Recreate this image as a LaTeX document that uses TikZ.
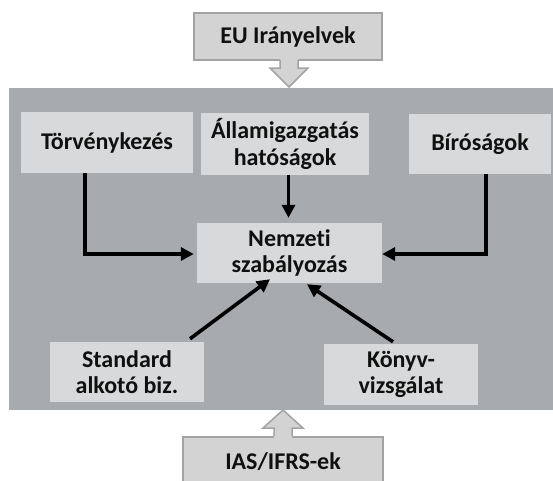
\documentclass[tikz,border=0pt]{standalone}
\usepackage{fontspec}
\setmainfont[Ligatures=NoCommon]{Carlito}
\usetikzlibrary{arrows.meta}
\definecolor{bggray}{HTML}{A7ABAD}
\definecolor{boxgray}{HTML}{D8D9DA}
\definecolor{callfill}{HTML}{D3D3D3}
\definecolor{calledge}{HTML}{A3A3A3}
\definecolor{txt}{HTML}{101010}
\begin{document}
\begin{tikzpicture}[x=1pt,y=-1pt,
  inbox/.style={fill=boxgray, draw=none, inner sep=0pt, align=center, text=txt,
    font=\fontsize{24}{26.5}\selectfont\bfseries},
  callbox/.style={fill=callfill, draw=calledge, line width=1.5pt, inner sep=0pt, align=center, text=txt,
    font=\fontsize{24}{26.5}\selectfont\bfseries},
  callfillonly/.style={fill=callfill, draw=none},
  calloutline/.style={draw=calledge, line width=1.5pt, line join=miter},
  flow/.style={draw=black, line width=3.6pt, -{Triangle[length=13pt,width=13pt]}}]
\useasboundingbox (0,0) rectangle (553,480);
\begin{scope}
\clip (0,0) rectangle (553,480);
% background panel
\fill[bggray] (9,88) rectangle (553,410);
% top callout
\node[callbox, minimum width=188pt, minimum height=47pt] (eu) at (288,36.5) {EU Irányelvek};
\fill[callfillonly] (280,58) -- (280,68) -- (270,68) -- (289,87) -- (308,68) -- (298,68) -- (298,58) -- cycle;
\draw[calloutline] (280,60) -- (280,68) -- (270,68) -- (289,87) -- (308,68) -- (298,68) -- (298,60);
% bottom callout
\node[callbox, minimum width=200pt, minimum height=60pt, anchor=north] (ias) at (283,436) {};
\node[text=txt, font=\fontsize{24}{26.5}\selectfont\bfseries, inner sep=0pt] (iastext) at (283,462) {IAS/IFRS-ek};
\fill[callfillonly] (274,438) -- (274,428) -- (263,428) -- (283,410) -- (303,428) -- (292,428) -- (292,438) -- cycle;
\draw[calloutline] (274,436) -- (274,428) -- (263,428) -- (283,410) -- (303,428) -- (292,428) -- (292,436);
\end{scope}
% inner boxes
\node[inbox, minimum width=172pt, minimum height=61pt] (torv) at (107,142.5) {Törvénykezés};
\node[inbox, minimum width=168pt, minimum height=62pt] (allam) at (285,144) {Államigazgatás\\hatóságok};
\node[inbox, minimum width=142pt, minimum height=60pt] (biro) at (480,144) {Bíróságok};
\node[inbox, minimum width=185pt, minimum height=60pt] (nemz) at (289.5,253) {Nemzeti\\szabályozás};
\node[inbox, minimum width=154pt, minimum height=60pt] (std) at (127,372) {Standard\\alkotó biz.};
\node[inbox, minimum width=154pt, minimum height=61pt] (konyv) at (401,374.5) {Könyv-\\vizsgálat};
% connectors
\coordinate (tl) at (85,254);
\coordinate (tr) at (486,254);
\draw[flow, shorten >=3pt] ([xshift=-22pt]torv.south) -- (tl) -- (tl -| nemz.west);
\draw[flow, shorten >=5pt] ([xshift=3.5pt]allam.south) -- ([xshift=-1pt]nemz.north);
\draw[flow, shorten >=0pt] ([xshift=6pt]biro.south) -- (tr) -- (tr -| nemz.east);
\draw[flow] ([xshift=63pt,yshift=3pt]std.north) -- ([xshift=-19.5pt,yshift=4pt]nemz.south);
\draw[flow] ([xshift=-8pt,yshift=2pt]konyv.north) -- ([xshift=17.5pt,yshift=-1pt]nemz.south);
\end{tikzpicture}
\end{document}
